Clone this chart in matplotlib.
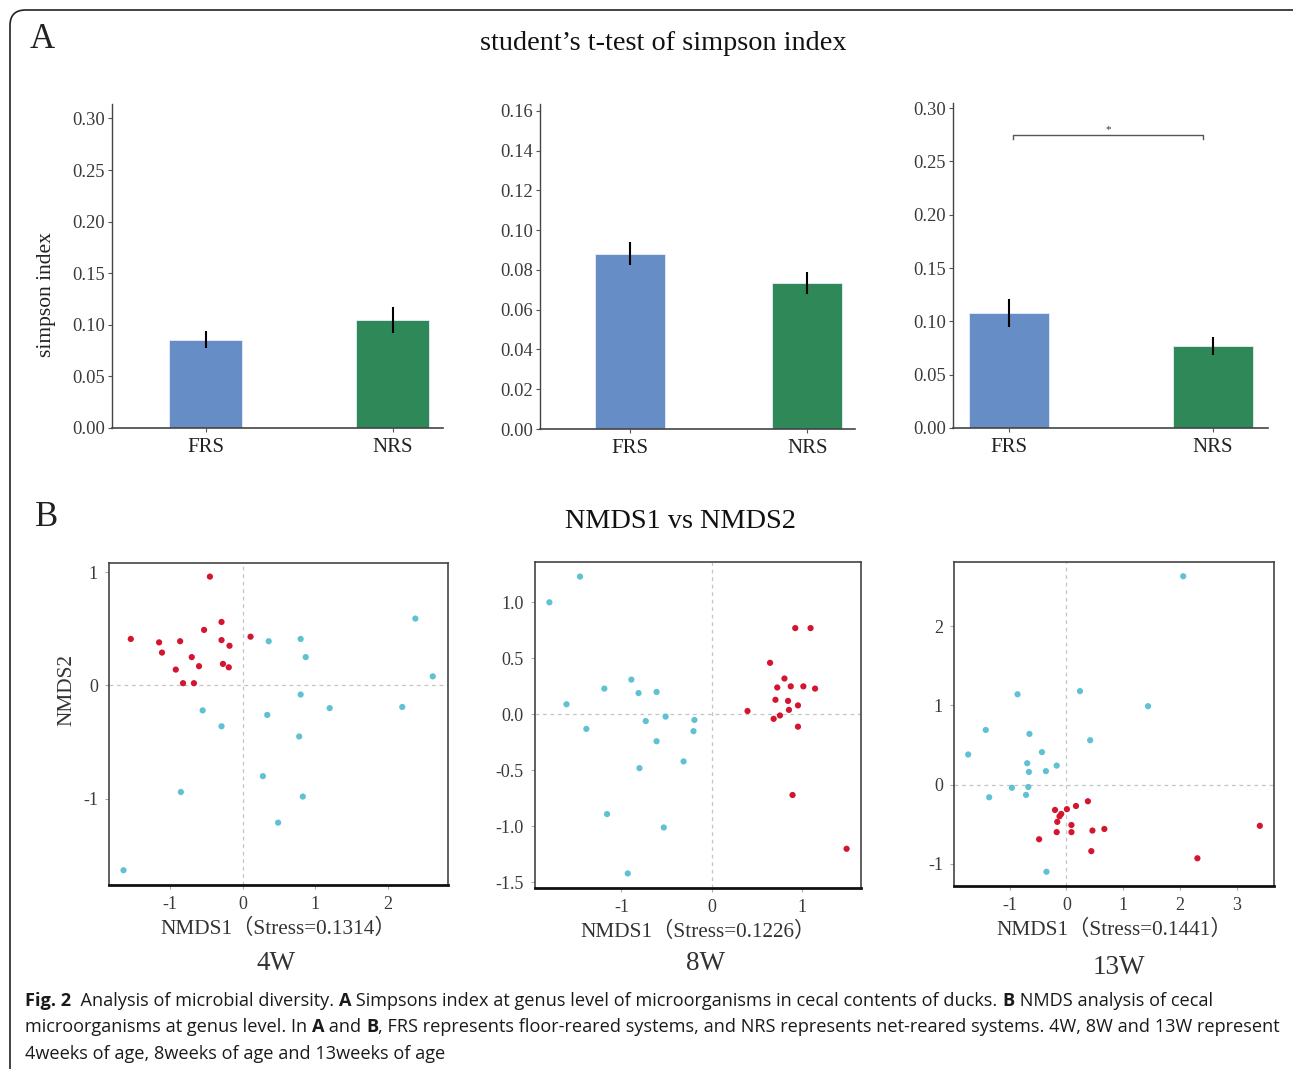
import matplotlib
matplotlib.use('Agg')
import matplotlib.pyplot as plt
import numpy as np
from matplotlib.patches import FancyBboxPatch
from matplotlib import font_manager

# ---------------- data ----------------
groups = ['FRS', 'NRS']
simpson_4w = [0.0857, 0.1048]
simpson_4w_err = [0.0085, 0.0125]
simpson_8w = [0.0882, 0.0735]
simpson_8w_err = [0.0058, 0.0056]
simpson_13w = [0.1076, 0.0767]
simpson_13w_err = [0.0130, 0.0083]
sig_13w_y = 0.275
sig_13w_label = '*'

nmds4_red_x = [-0.45, -1.54, -1.15, -0.86, -1.11, -0.53, -0.29, -0.29, -0.18, 0.11,
               -0.70, -0.60, -0.27, -0.19, -0.92, -0.82, -0.67]
nmds4_red_y = [0.96, 0.41, 0.38, 0.39, 0.29, 0.49, 0.56, 0.40, 0.35, 0.43,
               0.25, 0.17, 0.19, 0.16, 0.14, 0.02, 0.02]
nmds4_blue_x = [0.36, 0.80, 0.87, 2.38, 2.62, 0.80, 1.20, 2.20, -0.55, 0.34,
                -0.29, 0.78, 0.28, -0.85, 0.83, 0.49, -1.64]
nmds4_blue_y = [0.39, 0.41, 0.25, 0.59, 0.08, -0.08, -0.20, -0.19, -0.22, -0.26,
                -0.36, -0.45, -0.80, -0.94, -0.98, -1.21, -1.63]

nmds8_blue_x = [-1.80, -1.46, -1.61, -1.39, -1.19, -0.89, -0.81, -0.61, -0.73, -0.51,
                -0.19, -0.20, -0.61, -0.31, -0.80, -1.16, -0.53, -0.93]
nmds8_blue_y = [1.00, 1.23, 0.09, -0.13, 0.23, 0.31, 0.19, 0.20, -0.06, -0.02,
                -0.05, -0.15, -0.24, -0.42, -0.48, -0.89, -1.01, -1.42]
nmds8_red_x = [0.93, 1.10, 0.65, 0.81, 0.73, 0.88, 1.02, 1.15, 0.71, 0.85,
               0.86, 0.96, 0.40, 0.69, 0.76, 0.96, 0.90, 1.50]
nmds8_red_y = [0.77, 0.77, 0.46, 0.32, 0.24, 0.25, 0.25, 0.23, 0.13, 0.12,
               0.04, 0.08, 0.03, -0.04, -0.01, -0.11, -0.72, -1.20]

nmds13_blue_x = [2.06, -0.86, 0.24, 1.44, -1.42, -0.65, 0.42, -1.73, -0.43, -0.69,
                 -0.17, -0.66, -0.36, -0.96, -0.67, -0.71, -1.36, -0.35]
nmds13_blue_y = [2.63, 1.14, 1.18, 0.99, 0.69, 0.64, 0.56, 0.38, 0.41, 0.27,
                 0.24, 0.16, 0.17, -0.04, -0.03, -0.13, -0.16, -1.10]
nmds13_red_x = [0.38, 0.17, 0.01, -0.20, -0.09, -0.12, -0.16, 0.09, -0.17, 0.09,
                0.46, 0.67, -0.48, 0.44, 2.31, 3.41]
nmds13_red_y = [-0.21, -0.27, -0.31, -0.32, -0.37, -0.40, -0.47, -0.51, -0.60, -0.60,
                -0.58, -0.56, -0.69, -0.84, -0.93, -0.52]

stress = ['0.1314', '0.1226', '0.1441']
ages = ['4W', '8W', '13W']

# ---------------- style ----------------
W, H = 1293, 1069
SERIF = ['Liberation Serif', 'Noto Sans CJK SC', 'DejaVu Serif']
plt.rcParams['font.family'] = SERIF
BLUE_BAR = '#668dc6'
GREEN_BAR = '#2e8857'
RED_PT = '#d4152f'
BLUE_PT = '#5fc1d3'
TICK_COL = '#3a3a3a'

fig = plt.figure(figsize=(W / 100, H / 100), dpi=100)


def ax_px(l, t, r, b):
    return fig.add_axes([l / W, 1 - b / H, (r - l) / W, (b - t) / H])


def ftext(x, y, s, **kw):
    return fig.text(x / W, 1 - y / H, s, **kw)


# frame
frame = FancyBboxPatch((10 / W, -0.05), 1.2, 1 - 10 / H + 0.05,
                       boxstyle='round,pad=0,rounding_size=0.012',
                       transform=fig.transFigure, fill=False, ec='#222222', lw=1.2,
                       mutation_aspect=W / H)
fig.patches.append(frame)

# ---------------- bar panels ----------------
bar_specs = [
    ((112, 104, 443, 428), simpson_4w, simpson_4w_err, (0, 0.314), (-0.5, 1.27), np.arange(0, 0.301, 0.05)),
    ((540, 104, 855, 429), simpson_8w, simpson_8w_err, (0, 0.1634), (-0.505, 1.268), np.arange(0, 0.161, 0.02)),
    ((953, 103, 1268, 428), simpson_13w, simpson_13w_err, (0, 0.3047), (-0.276, 1.27), np.arange(0, 0.301, 0.05)),
]
bar_axes = []
for (l, t, r, b), vals, errs, ylim, xlim, yt in bar_specs:
    ax = ax_px(l, t, r, b)
    xs = np.arange(len(groups))
    ax.bar(xs, vals, width=0.395, color=[BLUE_BAR, GREEN_BAR], edgecolor='#e8eef8', linewidth=0.6)
    ax.errorbar(xs, vals, yerr=errs, fmt='none', ecolor='black', elinewidth=1.5, capsize=0)
    ax.set_xlim(*xlim)
    ax.set_ylim(*ylim)
    ax.set_xticks(xs)
    ax.set_xticklabels(groups, fontsize=15, color='#222222')
    ax.set_yticks(yt)
    ax.set_yticklabels(['%.2f' % v for v in yt], fontsize=13.3, color=TICK_COL)
    for s in ['top', 'right']:
        ax.spines[s].set_visible(False)
    ax.spines['left'].set_color('#444444')
    ax.spines['bottom'].set_color('#444444')
    ax.spines['left'].set_linewidth(1.0)
    ax.spines['bottom'].set_linewidth(1.2)
    ax.tick_params(axis='y', length=3, width=0.8, color='#555555', pad=2)
    ax.tick_params(axis='x', length=3, width=0.8, color='#555555', pad=4)
    bar_axes.append(ax)

# significance bracket in 13W
ax3 = bar_axes[2]
ax3.plot([0.02, 0.02, 0.95, 0.95], [sig_13w_y - 0.004, sig_13w_y, sig_13w_y, sig_13w_y - 0.004],
         color='#555555', lw=1.0)
ax3.text(0.485, sig_13w_y + 0.001, sig_13w_label, ha='center', va='bottom', fontsize=8, color='#333333')

bar_axes[0].set_ylabel('simpson index', fontsize=15.5, color='#222222')
bar_axes[0].yaxis.set_label_coords((56 - 112) / 331, (428 - 295) / 324)

# ---------------- NMDS panels ----------------
sc_specs = [
    ((109, 563, 448, 885), nmds4_red_x, nmds4_red_y, nmds4_blue_x, nmds4_blue_y,
     (-1.84, 2.83), (-1.76, 1.08), [-1, 0, 1, 2], [-1, 0, 1], '%d'),
    ((535, 562, 861, 888), nmds8_red_x, nmds8_red_y, nmds8_blue_x, nmds8_blue_y,
     (-1.96, 1.66), (-1.55, 1.36), [-1, 0, 1], [-1.5, -1.0, -0.5, 0.0, 0.5, 1.0], '%.1f'),
    ((954, 562, 1274, 886), nmds13_red_x, nmds13_red_y, nmds13_blue_x, nmds13_blue_y,
     (-1.98, 3.66), (-1.28, 2.81), [-1, 0, 1, 2, 3], [-1, 0, 1, 2], '%d'),
]
sc_axes = []
for i, ((l, t, r, b), rx, ry, bx, by, xlim, ylim, xt, yt, yfmt) in enumerate(sc_specs):
    ax = ax_px(l, t, r, b)
    ax.axhline(0, color='#c4c4c4', lw=0.9, ls=(0, (3, 3)), zorder=1)
    ax.axvline(0, color='#c4c4c4', lw=0.9, ls=(0, (3, 3)), zorder=1)
    ax.scatter(rx, ry, s=20, color=RED_PT, edgecolors='none', zorder=3)
    ax.scatter(bx, by, s=20, color=BLUE_PT, edgecolors='none', zorder=3)
    ax.set_xlim(*xlim)
    ax.set_ylim(*ylim)
    ax.set_xticks(xt)
    ax.set_xticklabels(['%d' % v for v in xt], fontsize=13, color=TICK_COL)
    ax.set_yticks(yt)
    ax.set_yticklabels([yfmt % v for v in yt], fontsize=13, color=TICK_COL)
    ax.tick_params(axis='both', length=3, width=0.8, color='#aaaaaa', pad=5)
    for s in ['top', 'right', 'left']:
        ax.spines[s].set_color('#444444')
        ax.spines[s].set_linewidth(1.2)
    ax.spines['bottom'].set_color('#111111')
    ax.spines['bottom'].set_linewidth(2.0)
    ax.set_xlabel('NMDS1\uff08Stress=%s\uff09' % stress[i], fontsize=15.3, color='#333333', labelpad=4)
    sc_axes.append(ax)

sc_axes[0].set_ylabel('NMDS2', fontsize=15.3, color='#333333')
sc_axes[0].yaxis.set_label_coords((76 - 109) / 339, (885 - 690) / 322)

# age labels
for x, y, s in [(276, 963, ages[0]), (706, 963, ages[1]), (1119, 968, ages[2])]:
    ftext(x, y, s, ha='center', va='center', fontsize=19.5, color='#333333')

# panel letters and titles
ftext(42, 40, 'A', ha='center', va='center', fontsize=25, color='#222222')
ftext(663, 44, 'student\u2019s t-test of simpson index', ha='center', va='center', fontsize=20.3, color='#111111')
ftext(47, 517, 'B', ha='center', va='center', fontsize=25, color='#222222')
ftext(680, 522, 'NMDS1 vs NMDS2', ha='center', va='center', fontsize=20.3, color='#111111')

# ---------------- caption ----------------
def has_font(name):
    try:
        font_manager.findfont(font_manager.FontProperties(family=name), fallback_to_default=False)
        return True
    except Exception:
        return False

cap_family = ['Liberation Sans Narrow'] if has_font('Liberation Sans Narrow') else ['Open Sans']

lines = [
    [('Fig. 2', True), ('  Analysis of microbial diversity. ', False), ('A', True),
     (' Simpsons index at genus level of microorganisms in cecal contents of ducks. ', False),
     ('B', True), (' NMDS analysis of cecal', False)],
    [('microorganisms at genus level. In ', False), ('A', True), (' and ', False), ('B', True),
     (', FRS represents floor-reared systems, and NRS represents net-reared systems. 4W, 8W and 13W represent', False)],
    [('4weeks of age, 8weeks of age and 13weeks of age', False)],
]

renderer = fig.canvas.get_renderer()


def measure(pieces, size):
    tot = 0
    for s, bld in pieces:
        t = fig.text(0, 0, s, fontsize=size, fontweight='bold' if bld else 'normal', family=cap_family)
        tot += t.get_window_extent(renderer).width
        t.remove()
    return tot

base = 12
cap_size = min(base * 1199 / measure(lines[0], base), base * 1248 / measure(lines[1], base))

for j, pieces in enumerate(lines):
    x = 25
    y = 1006 + j * 26.3
    for s, bld in pieces:
        t = ftext(x, y, s, fontsize=cap_size, fontweight='bold' if bld else 'normal',
                  family=cap_family, va='baseline', ha='left', color='#1a1a1a')
        x += t.get_window_extent(renderer).width

fig.savefig('out.png', dpi=100)
